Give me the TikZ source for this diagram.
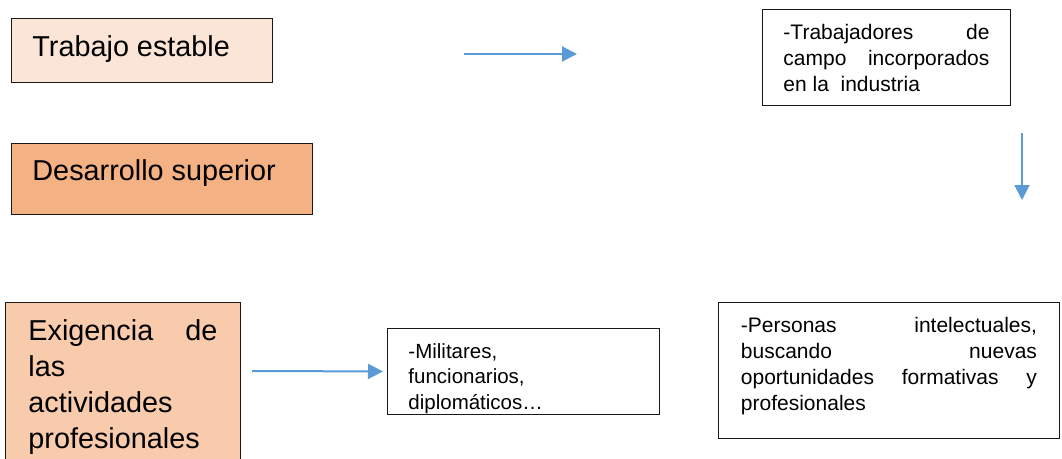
\documentclass[tikz,border=0pt]{standalone}
\usepackage{fontspec}
\setmainfont{Liberation Sans}
\usetikzlibrary{arrows.meta}
\definecolor{peachlight}{HTML}{FBE5D6}
\definecolor{peachdark}{HTML}{F4B183}
\definecolor{peachmid}{HTML}{F8CBAD}
\definecolor{flowblue}{HTML}{5B9BD5}
\hyphenpenalty=10000
\exhyphenpenalty=10000

\begin{document}
\begin{tikzpicture}[
    x=1pt, y=-1pt,
    box/.style={draw=black!90,line width=0.9pt,anchor=north west,inner ysep=0pt,align=justify},
    bigtext/.style={font=\fontsize{28.8}{36}\selectfont},
    smalltext/.style={font=\fontsize{21}{26}\selectfont},
    flow/.style={-{Triangle[length=15pt,width=15pt]},line width=2pt,flowblue},
]
    \path[use as bounding box] (0,0) rectangle (1062,458);

    \node[box,bigtext,fill=peachlight,inner xsep=21pt,text width=219pt,
        text height=38pt,text depth=26pt] (estable) at (11,18) {Trabajo estable};
    \node[box,bigtext,fill=peachdark,inner xsep=21pt,text width=259pt,
        text height=37pt,text depth=34pt] (superior) at (11,143) {Desarrollo superior};
    \node[box,bigtext,fill=peachmid,inner xsep=23pt,text width=189pt,
        text height=38pt,text depth=132pt] (exigencia) at (5,302)
        {Exigencia de\linebreak las\linebreak actividades\linebreak profesionales};

    \node[box,smalltext,inner xsep=21pt,text width=206pt,
        text height=30pt,text depth=66pt] (campo) at (762,9)
        {-Trabajadores de\linebreak campo incorporados\linebreak en la~~industria};
    \node[box,align=left,font=\fontsize{20.5}{25.5}\selectfont,inner xsep=21pt,text width=230pt,
        text height=29.7pt,text depth=56.3pt] (militares) at (387,328)
        {-Militares,\\ funcionarios,\\ diplomáticos…};
    \node[box,smalltext,inner xsep=22.5pt,text width=296pt,
        text height=30pt,text depth=106pt] (intelectuales) at (718,302)
        {-Personas intelectuales,\linebreak buscando nuevas\linebreak oportunidades formativas y\linebreak profesionales};

    \coordinate (estableout) at (464,54);
    \coordinate (campoin) at (577,54);
    \coordinate (campoout) at (1022,133);
    \coordinate (intelin) at (1022,200);
    \coordinate (exigout) at (252,371);

    \draw[flow] (estableout) -- (campoin);
    \draw[flow] (campoout) -- (intelin);
    \draw[flow] (exigout) -- ([xshift=-4pt]militares.west);
\end{tikzpicture}
\end{document}
